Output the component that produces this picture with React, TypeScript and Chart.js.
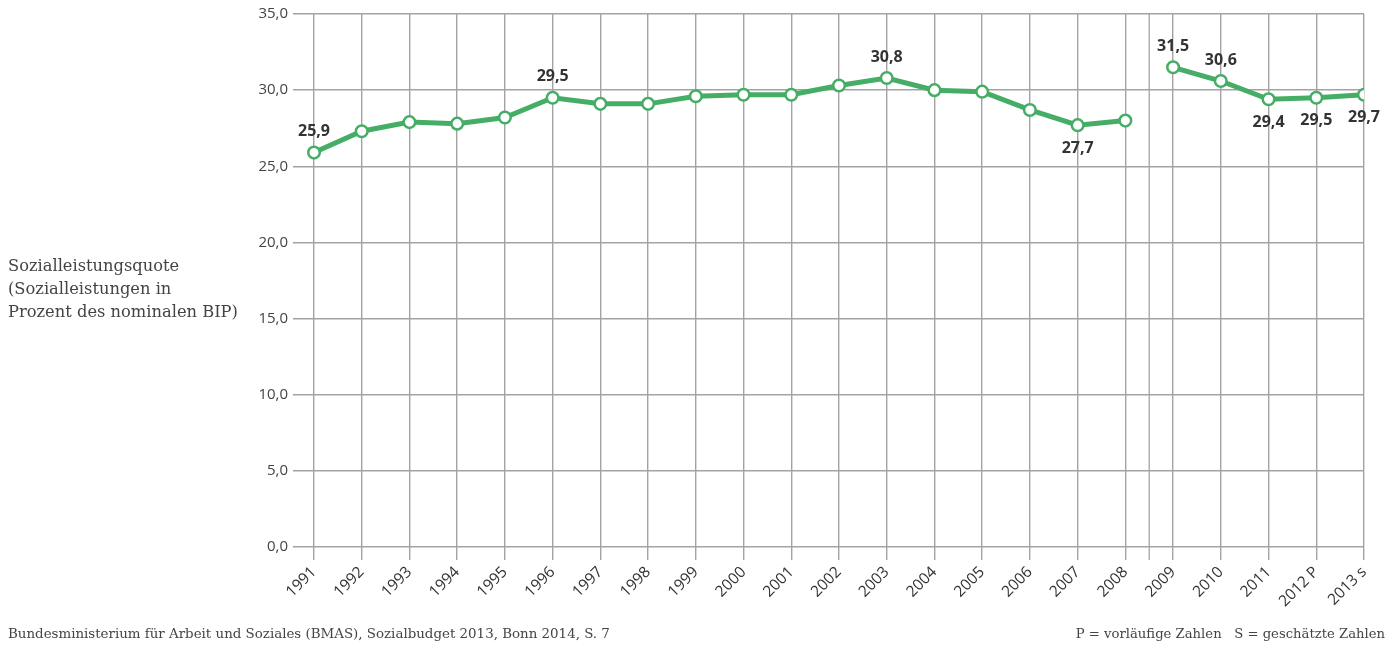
import React, { useEffect, useRef } from 'react';
import { Chart, registerables } from 'chart.js';

Chart.register(...registerables);

const categories = ['1991', '1992', '1993', '1994', '1995', '1996', '1997', '1998', '1999', '2000', '2001', '2002', '2003', '2004', '2005', '2006', '2007', '2008', '2009', '2010', '2011', '2012 P', '2013 s'];
const values = [25.9, 27.3, 27.9, 27.8, 28.2, 29.5, 29.1, 29.1, 29.6, 29.7, 29.7, 30.3, 30.8, 30.0, 29.9, 28.7, 27.7, 28.0, 31.5, 30.6, 29.4, 29.5, 29.7];
// which points carry a value label, and where
const labelPlacement: (string | null)[] = ['above', null, null, null, null, 'above', null, null, null, null, null, null, 'above', null, null, null, 'below', null, 'above', 'above', 'below', 'below', 'below'];
// series is interrupted after this category (2008 -> 2009)
const breakAfterIndex = 17;
const yMin = 0;
const yMax = 35;
const yStep = 5;

const GREEN = '#45ad66';
const GRID = '#a3a3a3';

const fmt = (v: number) => v.toFixed(1).replace('.', ',');

const breakLinePlugin = {
  id: 'breakLine',
  beforeDatasetsDraw(chart: any) {
    const x = chart.scales.x;
    const area = chart.chartArea;
    const px = x.getPixelForValue(breakAfterIndex + 0.5);
    const ctx = chart.ctx;
    ctx.save();
    ctx.strokeStyle = GRID;
    ctx.lineWidth = 1.3;
    ctx.beginPath();
    ctx.moveTo(px, area.top);
    ctx.lineTo(px, area.bottom + 13);
    ctx.stroke();
    ctx.restore();
  },
};

const valueLabelPlugin = {
  id: 'valueLabels',
  afterDatasetsDraw(chart: any) {
    const meta = chart.getDatasetMeta(0);
    const ctx = chart.ctx;
    ctx.save();
    ctx.font = 'bold 16px "Open Sans"';
    ctx.fillStyle = '#333333';
    ctx.textAlign = 'center';
    ctx.textBaseline = 'middle';
    meta.data.forEach((pt: any, i: number) => {
      const pos = labelPlacement[i];
      if (!pos) return;
      const y = pos === 'above' ? pt.y - 21 : pt.y + 23;
      ctx.fillText(fmt(values[i]), pt.x, y);
    });
    ctx.restore();
  },
};

export default function App() {
  const canvasRef = useRef<HTMLCanvasElement | null>(null);

  useEffect(() => {
    if (!canvasRef.current) return;
    const chart = new Chart(canvasRef.current, {
      type: 'line',
      data: {
        datasets: [
          {
            data: values.map((v, i) => ({ x: i, y: v })),
            borderColor: GREEN,
            borderWidth: 5,
            pointRadius: 5.8,
            pointBorderWidth: 2.5,
            pointBackgroundColor: '#ffffff',
            pointBorderColor: GREEN,
            tension: 0,
            segment: {
              borderColor: (ctx: any) => (ctx.p0DataIndex === breakAfterIndex ? 'rgba(0,0,0,0)' : GREEN),
            },
          },
        ],
      },
      options: {
        responsive: false,
        animation: false,
        devicePixelRatio: 1,
        layout: { padding: { top: 12, right: 33, left: 0, bottom: 0 } },
        plugins: {
          legend: { display: false },
          tooltip: { enabled: false },
        },
        scales: {
          x: {
            type: 'linear',
            min: -0.44,
            max: categories.length - 1,
            afterBuildTicks: (s: any) => {
              s.ticks = categories.map((_, i) => ({ value: i }));
            },
            afterFit: (s: any) => {
              s.height = 104;
            },
            ticks: {
              autoSkip: false,
              minRotation: 45,
              maxRotation: 45,
              padding: 3,
              color: '#333333',
              font: { family: '"Open Sans"', size: 15.5 },
              callback: (v: any) => categories[v] ?? '',
            },
            grid: { color: GRID, lineWidth: 1.4, tickLength: 13 },
            border: { display: false },
          },
          y: {
            min: yMin,
            max: yMax,
            afterFit: (s: any) => {
              s.width = 293;
            },
            ticks: {
              stepSize: yStep,
              padding: 5,
              color: '#444444',
              font: { family: '"Open Sans"', size: 15 },
              callback: (v: any) => fmt(Number(v)),
            },
            grid: { color: GRID, lineWidth: 1.4, drawTicks: false },
            border: { display: false },
          },
        },
      },
      plugins: [breakLinePlugin, valueLabelPlugin],
    });
    return () => chart.destroy();
  }, []);

  const serif = '"DejaVu Serif", "Liberation Serif", serif';

  return (
    <div style={{ position: 'fixed', left: 0, top: 0, width: 1397, height: 651, background: '#ffffff', overflow: 'hidden' }}>
      <canvas ref={canvasRef} width={1397} height={651} style={{ position: 'absolute', left: 0, top: 0, width: 1397, height: 651 }} />
      <div style={{ position: 'absolute', left: 8, top: 254, fontFamily: serif, fontSize: 16.3, lineHeight: '23px', color: '#444444', whiteSpace: 'nowrap' }}>
        Sozialleistungsquote
        <br />
        (Sozialleistungen in
        <br />
        Prozent des nominalen BIP)
      </div>
      <div style={{ position: 'absolute', left: 8, top: 626, fontFamily: serif, fontSize: 13.4, color: '#444444', whiteSpace: 'nowrap' }}>
        Bundesministerium für Arbeit und Soziales (BMAS), Sozialbudget 2013, Bonn 2014, S. 7
      </div>
      <div style={{ position: 'absolute', right: 12, top: 626, fontFamily: serif, fontSize: 13.2, color: '#444444', whiteSpace: 'pre' }}>
        {'P = vorläufige Zahlen   S = geschätzte Zahlen'}
      </div>
    </div>
  );
}
